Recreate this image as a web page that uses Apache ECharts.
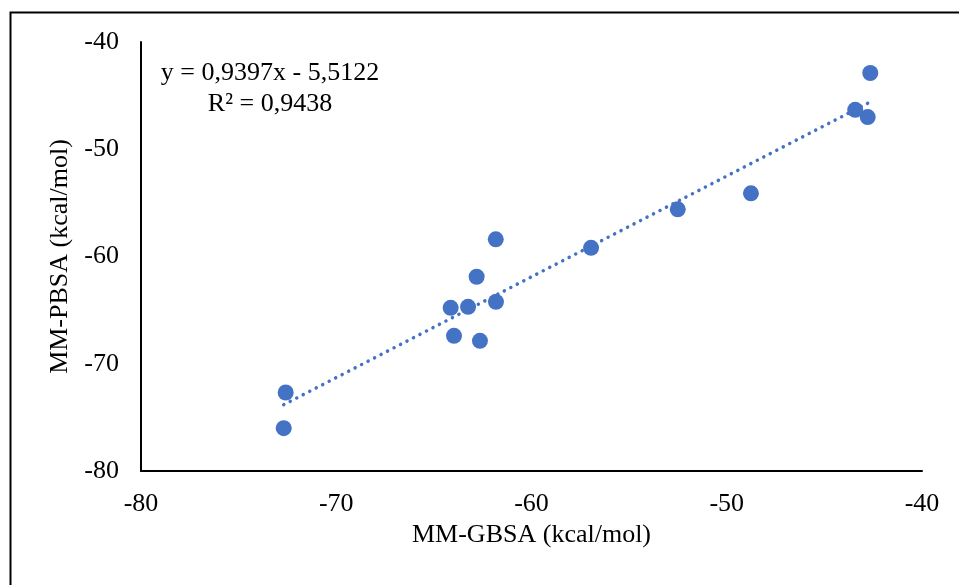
<!DOCTYPE html>
<html>
<head>
<meta charset="utf-8">
<script src="https://cdn.jsdelivr.net/npm/echarts@6/dist/echarts.min.js"></script>
<style>
  html, body { margin: 0; padding: 0; background: #fff; }
  #chart { width: 959px; height: 585px; }
</style>
</head>
<body>
<div id="chart"></div>
<script>
// MM-GBSA (x) vs MM-PBSA (y), kcal/mol
const gbsa = [-72.59, -72.69, -64.14, -63.97, -63.25, -62.81, -62.64, -61.82, -61.83, -56.95, -52.51, -48.76, -43.42, -42.78, -42.65];
const pbsa = [-72.68, -76.01, -64.79, -67.40, -64.69, -61.89, -67.86, -64.23, -58.40, -59.19, -55.60, -54.11, -46.32, -47.00, -42.89];

// linear trendline as printed on the chart
const slope = 0.9397;
const intercept = -5.5122;
const r2 = 0.9438;

const xTicks = [-80, -70, -60, -50, -40];
const yTicks = [-80, -70, -60, -50, -40];

const fmt = (v) => v.toFixed(4).replace(".", ",");

const points = gbsa.map((x, i) => [x, pbsa[i]]);
const xMin = Math.min(...gbsa);
const xMax = Math.max(...gbsa);
const trend = [
  [xMin, slope * xMin + intercept],
  [xMax, slope * xMax + intercept],
];

const font = "'Liberation Serif', 'Times New Roman', serif";
const blue = "#4472C4";

const chart = echarts.init(document.getElementById("chart"), null, { renderer: "canvas" });

chart.setOption({
  animation: false,
  backgroundColor: "#fff",
  grid: { left: 141, right: 37, top: 42, bottom: 114 },
  xAxis: {
    type: "value",
    min: xTicks[0],
    max: xTicks[xTicks.length - 1],
    interval: 10,
    name: "MM-GBSA (kcal/mol)",
    nameLocation: "middle",
    nameGap: 50,
    nameTextStyle: { fontFamily: font, fontSize: 26, color: "#000" },
    axisLine: { show: true, onZero: false, lineStyle: { color: "#000", width: 2 } },
    axisTick: { show: false },
    splitLine: { show: false },
    axisLabel: { fontFamily: font, fontSize: 26, color: "#000", margin: 20 },
  },
  yAxis: {
    type: "value",
    min: yTicks[0],
    max: yTicks[yTicks.length - 1],
    interval: 10,
    name: "MM-PBSA (kcal/mol)",
    nameLocation: "middle",
    nameGap: 67,
    nameTextStyle: { fontFamily: font, fontSize: 26, color: "#000" },
    axisLine: { show: true, onZero: false, lineStyle: { color: "#000", width: 2 } },
    axisTick: { show: false },
    splitLine: { show: false },
    axisLabel: { fontFamily: font, fontSize: 26, color: "#000", margin: 22 },
  },
  graphic: [
    {
      type: "rect",
      shape: { x: 10.5, y: 12.5, width: 1200, height: 1200 },
      style: { fill: "none", stroke: "#000", lineWidth: 2 },
      silent: true,
      z: -10,
    },
    {
      type: "text",
      x: 270,
      y: 89,
      style: {
        text: "y = " + fmt(slope) + "x - " + fmt(-intercept) + "\nR² = " + fmt(r2),
        fontFamily: font,
        fontSize: 26,
        lineHeight: 31,
        fill: "#000",
        align: "center",
        verticalAlign: "middle",
      },
    },
  ],
  series: [
    {
      name: "trend",
      type: "line",
      data: trend,
      symbol: "none",
      lineStyle: { color: blue, width: 3.5, type: [0.1, 7.2], cap: "round" },
      z: 1,
    },
    {
      name: "data",
      type: "scatter",
      data: points,
      symbol: "circle",
      symbolSize: 16,
      itemStyle: { color: blue, opacity: 1 },
      z: 2,
    },
  ],
});
</script>
</body>
</html>
